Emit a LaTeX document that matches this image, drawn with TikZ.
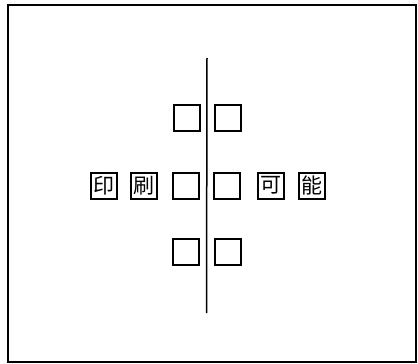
\documentclass[tikz,border=0pt]{standalone}
\usepackage{fontspec}
\newfontfamily\cjk[BoldFont={Noto Sans CJK SC Bold}]{Noto Sans CJK SC}
\begin{document}
\begin{tikzpicture}[x=1pt,y=-1pt,
  cell/.style={draw,line width=2pt,minimum width=26pt,minimum height=26pt,inner sep=0pt,font=\cjk\fontsize{21}{21}\selectfont},
  frame/.style={line width=2pt}]
\useasboundingbox (0,0) rectangle (418,364);
\draw[frame] (8,5) rectangle (416,362);
\coordinate (vt) at (207,58);
\coordinate (vb) at (206.5,313);
\draw[line width=1.5pt] (vt) -- (vb);
% top row
\node[cell] (t1) at (186.5,117.5) {};
\node[cell] (t2) at (227.5,117.5) {};
% middle row
\node[cell] (m1) at (104,185.5) {印};
\node[cell] (m2) at (143.5,185.5) {刷};
\node[cell] (m3) at (186,185.5) {};
\node[cell] (m4) at (226.5,185.5) {};
\node[cell] (m5) at (270.5,185.5) {可};
\node[cell] (m6) at (312,185.5) {能};
% bottom row
\node[cell] (b1) at (186,252) {};
\node[cell] (b2) at (227.5,252) {};
\end{tikzpicture}
\end{document}
